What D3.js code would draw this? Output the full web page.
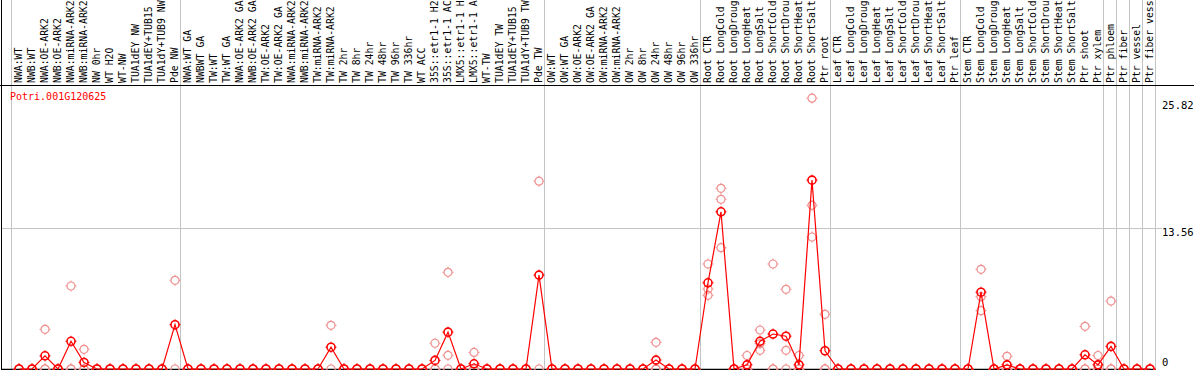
<!DOCTYPE html>
<html>
<head>
<meta charset="utf-8">
<script src="https://cdn.jsdelivr.net/npm/d3@7"></script>
<style>
  body { margin: 0; background: #fff; }
  svg { display: block; font-family: "DejaVu Sans Mono", monospace; font-size: 10px; }
</style>
</head>
<body>
<svg id="chart" width="1194" height="370"></svg>
<script>
// Sample names as they show above the plot, in plot order
const samples = [
  "NWA:WT", "NWB:WT", "NWA:OE-ARK2", "NWB:OE-ARK2", "NWA:miRNA-ARK2", "NWB:miRNA-ARK2",
  "NW 0hr", "WT H2O", "WT-NW", "TUA1dEY NW", "TUA1dEY+TUB15", "TUA1dY+TUB9 NW", "Pde NW",
  "NWA:WT GA", "NWBWT GA", "TW:WT", "TW:WT GA", "NWA:OE-ARK2 GA", "NWB:OE-ARK2 GA",
  "TW:OE-ARK2", "TW:OE-ARK2 GA", "NWA:miRNA-ARK2", "NWB:miRNA-ARK2", "TW:miRNA-ARK2", "TW:miRNA-ARK2",
  "TW 2hr", "TW 8hr", "TW 24hr", "TW 48hr", "TW 96hr", "TW 336hr", "WT ACC",
  "35S::etr1-1 H2", "35S::etr1-1 AC", "LMX5::etr1-1 H", "LMX5::etr1-1 A",
  "WT-TW", "TUA1dEY TW", "TUA1dEY+TUB15", "TUA1dY+TUB9 TW", "Pde TW",
  "OW:WT", "OW:WT GA", "OW:OE-ARK2", "OW:OE-ARK2 GA", "OW:miRNA-ARK2", "OW:miRNA-ARK2",
  "OW 2hr", "OW 8hr", "OW 24hr", "OW 48hr", "OW 96hr", "OW 336hr",
  "Root CTR", "Root LongCold", "Root LongDroug", "Root LongHeat", "Root LongSalt",
  "Root ShortCold", "Root ShortDrou", "Root ShortHeat", "Root ShortSalt", "Ptr root",
  "Leaf CTR", "Leaf LongCold", "Leaf LongDroug", "Leaf LongHeat", "Leaf LongSalt",
  "Leaf ShortCold", "Leaf ShortDrou", "Leaf ShortHeat", "Leaf ShortSalt", "Ptr leaf",
  "Stem CTR", "Stem LongCold", "Stem LongDroug", "Stem LongHeat", "Stem LongSalt",
  "Stem ShortCold", "Stem ShortDrou", "Stem ShortHeat", "Stem ShortSalt", "Ptr shoot", "Ptr xylem",
  "Ptr phloem", "Ptr fiber", "Ptr vessel", "Ptr fiber vess"
];

// index where each block of samples starts (last = end of plot)
const groupStarts = [0, 13, 41, 53, 63, 73, 84, 85, 86, 87, 88];

// mean expression per sample
const means = [
  0, 0, 1.27, 0, 2.67, 0.63, 0, 0, 0, 0, 0, 0, 4.27,
  0, 0, 0, 0, 0, 0, 0, 0, 0, 0, 0, 2.1,
  0, 0, 0, 0, 0, 0, 0, 0.83, 3.55, 0, 0.5, 0, 0, 0, 0, 9.05,
  0, 0, 0, 0, 0, 0, 0, 0, 0.86, 0, 0, 0,
  8.31, 15.15, 0, 0.4, 2.67, 3.37, 3.16, 0.4, 18.2, 1.76,
  0, 0, 0, 0, 0, 0, 0, 0, 0, 0,
  0, 7.4, 0, 0.4, 0, 0, 0, 0, 0, 1.37, 0.4,
  2.18, 0, 0, 0
];

// individual replicates (sample index -> values); others are all zero
const replicates = {
  2: [3.82, 0, 0], 4: [8.0, 0, 0], 5: [1.9, 0, 0], 12: [8.55, 0],
  24: [4.21, 0], 32: [2.48, 0, 0], 33: [9.32, 1.32, 0], 35: [1.6, 0, 0],
  40: [18.1, 0], 49: [2.57, 0, 0],
  53: [10.12, 7.71, 7.1], 54: [17.41, 16.35, 11.69], 56: [1.3, 0, 0],
  57: [3.76, 2.45, 1.8], 58: [10.12, 0, 0], 59: [7.68, 1.8, 0], 60: [1.3, 0, 0],
  61: [26.1, 15.77, 12.72], 62: [5.27, 0, 0],
  74: [9.61, 6.97, 5.62], 76: [1.22, 0, 0], 82: [4.11, 0, 0], 83: [1.3, 0, 0], 84: [6.55, 0, 0]
};

const yTicks = [0, 13.56, 25.82];
const geneName = "Potri.001G120625";

const svg = d3.select("#chart");
const W = 1194, H = 370;
const labelBottom = 85;     // line under the rotated sample names
const plotRight = 1156;

const x = d3.scaleLinear().domain([0, samples.length - 1]).range([19, 1150]);
const y = d3.scaleLinear().domain([0, 27.12]).range([369, 87.6]);

const grey = "#c4c4c4";
const red = "#ff0000";
const pink = "#f09090";

// group separators (full height)
svg.append("g")
  .selectAll("line")
  .data(groupStarts)
  .join("line")
  .attr("x1", (d) => Math.round(x(d - 0.65)) + 0.5)
  .attr("x2", (d) => Math.round(x(d - 0.65)) + 0.5)
  .attr("y1", 0)
  .attr("y2", y(0))
  .attr("stroke", grey);

// middle gridline
svg.append("line")
  .attr("x1", 1).attr("x2", 1162)
  .attr("y1", Math.round(y(yTicks[1])) + 0.5)
  .attr("y2", Math.round(y(yTicks[1])) + 0.5)
  .attr("stroke", grey);

// frame lines
svg.append("line").attr("x1", 0).attr("x2", W)
  .attr("y1", labelBottom + 0.5).attr("y2", labelBottom + 0.5).attr("stroke", "#000");
svg.append("line").attr("x1", 1.5).attr("x2", 1.5)
  .attr("y1", 0).attr("y2", H).attr("stroke", "#000");
svg.append("line").attr("x1", 1).attr("x2", plotRight)
  .attr("y1", y(0) + 0.5).attr("y2", y(0) + 0.5).attr("stroke", "#000").attr("stroke-width", 1.5);

// sample labels
svg.append("g")
  .selectAll("text")
  .data(samples)
  .join("text")
  .attr("transform", (d, i) => `translate(${x(i)},83) rotate(-90)`)
  .attr("dy", "0.35em")
  .attr("font-size", "9.8px")
  .attr("fill", "#000")
  .text((d) => d);

// y tick labels
svg.append("g")
  .selectAll("text")
  .data(yTicks)
  .join("text")
  .attr("x", 1162)
  .attr("y", (d) => Math.min(y(d) + 4, y(0) - 7))
  .attr("dy", "0.35em")
  .attr("font-size", "10.5px")
  .attr("fill", "#000")
  .text((d) => d);

// title
svg.append("text")
  .attr("x", 10).attr("y", 100)
  .attr("fill", red)
  .text(geneName);

// marker: circle with four small ticks
function marker(g, color, sw) {
  g.append("circle").attr("r", 4).attr("fill", "none")
    .attr("stroke", color).attr("stroke-width", sw);
  [[0, -4, 0, -5.5], [0, 4, 0, 5.5], [-4, 0, -5.5, 0], [4, 0, 5.5, 0]].forEach((t) => {
    g.append("line")
      .attr("x1", t[0]).attr("y1", t[1]).attr("x2", t[2]).attr("y2", t[3])
      .attr("stroke", color).attr("stroke-width", 1);
  });
}

// replicate points
const repPoints = [];
samples.forEach((s, i) => {
  const vals = replicates[i] || [0, 0, 0];
  vals.forEach((v) => repPoints.push({ i, v }));
});

svg.append("g")
  .selectAll("g")
  .data(repPoints)
  .join("g")
  .attr("transform", (d) => `translate(${x(d.i)},${y(d.v)})`)
  .each(function () { marker(d3.select(this), pink, 1.2); });

// mean line
svg.append("path")
  .datum(means)
  .attr("fill", "none")
  .attr("stroke", red)
  .attr("stroke-width", 1.2)
  .attr("d", d3.line().x((d, i) => x(i)).y((d) => y(d)));

// mean points
svg.append("g")
  .selectAll("g")
  .data(means)
  .join("g")
  .attr("transform", (d, i) => `translate(${x(i)},${y(d)})`)
  .each(function () { marker(d3.select(this), red, 1.6); });
</script>
</body>
</html>
